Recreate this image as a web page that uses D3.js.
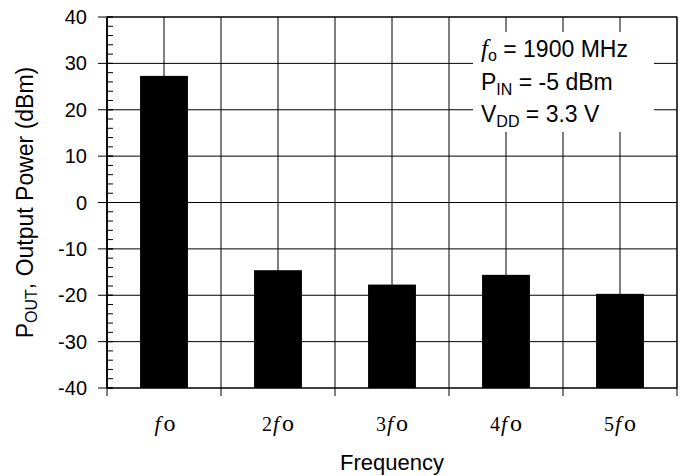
<!DOCTYPE html>
<html>
<head>
<meta charset="utf-8">
<script src="https://cdn.jsdelivr.net/npm/d3@7"></script>
<style>
  body { margin: 0; background: #fff; }
  text { font-family: "Liberation Sans", Arial, sans-serif; fill: #000; }
  .serif { font-family: "Liberation Serif", "Times New Roman", serif; }
</style>
</head>
<body>
<script>
(function() {

  var harmonics = ["", "2", "3", "4", "5"],
      power     = [27.3, -14.6, -17.7, -15.6, -19.7],
      yTicks    = [40, 30, 20, 10, 0, -10, -20, -30, -40],
      notes     = [
        { main: "", sub: "o", rest: " = 1900 MHz", italicF: true },
        { main: "P", sub: "IN", rest: " = -5 dBm" },
        { main: "V", sub: "DD", rest: " = 3.3 V" }
      ];

  var width  = 688, height = 476,
      left   = 107, right = 677,
      top    = 17,  bottom = 388,
      svg, x, y, grid;

  svg = d3.select("body")
          .append("svg")
            .attr("width", width)
            .attr("height", height);

  x = d3.scaleBand()
        .domain(harmonics)
        .range([left, right])
        .paddingInner(0.58)
        .paddingOuter(0.29);

  y = d3.scaleLinear()
        .domain([-40, 40])
        .range([bottom, top]);

  var step = x.step(),
      lines = d3.range(0, harmonics.length * 2 + 1).map(function(i) { return left + i * step / 2; });

  grid = svg.append("g").attr("stroke", "#000").attr("stroke-width", 1);

  /* horizontal grid */
  grid.selectAll("line.h")
    .data(yTicks)
    .enter()
    .append("line")
      .attr("x1", left).attr("x2", right)
      .attr("y1", function(d) { return y(d); })
      .attr("y2", function(d) { return y(d); });

  /* vertical grid: category edges and centres */
  grid.selectAll("line.v")
    .data(lines)
    .enter()
    .append("line")
      .attr("x1", function(d) { return d; })
      .attr("x2", function(d) { return d; })
      .attr("y1", top).attr("y2", bottom);

  /* legend box hides the grid behind it */
  svg.append("rect")
    .attr("x", 473).attr("y", 32)
    .attr("width", 181).attr("height", 100)
    .attr("fill", "#fff");

  var legend = svg.append("text").attr("font-size", 23);

  notes.forEach(function(n, i) {
    var line = legend.append("tspan").attr("x", 481).attr("y", 57 + i * 32.5);
    if (n.italicF) {
      line.append("tspan").attr("class", "serif").attr("font-style", "italic").attr("font-size", 25).text("f");
      line.append("tspan").attr("font-size", 16).attr("dy", 4).text(n.sub);
    } else {
      line.append("tspan").text(n.main);
      line.append("tspan").attr("font-size", 16).attr("dy", 5).text(n.sub);
    }
    line.append("tspan").attr("dy", n.italicF ? -4 : -5).text(n.rest);
  });

  /* bars rise from the bottom of the axis */
  svg.append("g")
    .selectAll("rect")
    .data(power)
    .enter()
    .append("rect")
      .attr("x", function(d, i) { return x(harmonics[i]); })
      .attr("width", x.bandwidth())
      .attr("y", function(d) { return y(d); })
      .attr("height", function(d) { return y(-40) - y(d); })
      .attr("fill", "#000");

  /* frame */
  svg.append("rect")
    .attr("x", left).attr("y", top)
    .attr("width", right - left).attr("height", bottom - top)
    .attr("fill", "none").attr("stroke", "#000").attr("stroke-width", 1);
  svg.append("line")
    .attr("x1", left).attr("x2", left).attr("y1", top).attr("y2", bottom)
    .attr("stroke", "#000").attr("stroke-width", 1.5);

  /* y axis ticks */
  var ticks = svg.append("g").attr("stroke", "#000");

  ticks.selectAll("line.minor")
    .data(d3.range(-40, 41, 2))
    .enter()
    .append("line")
      .attr("x1", left).attr("x2", left + 6)
      .attr("y1", function(d) { return y(d); })
      .attr("y2", function(d) { return y(d); });

  ticks.selectAll("line.major")
    .data(yTicks)
    .enter()
    .append("line")
      .attr("x1", left - 9).attr("x2", left + 6)
      .attr("y1", function(d) { return y(d); })
      .attr("y2", function(d) { return y(d); });

  ticks.selectAll("line.xt")
    .data(d3.range(0, harmonics.length + 1))
    .enter()
    .append("line")
      .attr("x1", function(d) { return left + d * step; })
      .attr("x2", function(d) { return left + d * step; })
      .attr("y1", bottom).attr("y2", bottom + 8);

  svg.append("g")
    .selectAll("text")
    .data(yTicks)
    .enter()
    .append("text")
      .attr("x", 87)
      .attr("y", function(d) { return y(d) + 7; })
      .attr("text-anchor", "end")
      .attr("font-size", 20)
      .text(function(d) { return d; });

  /* x labels: n f o */
  var xl = svg.append("g")
    .selectAll("text")
    .data(harmonics)
    .enter()
    .append("text")
      .attr("class", "serif")
      .attr("x", function(d) { return x(d) + x.bandwidth() / 2; })
      .attr("y", 431)
      .attr("text-anchor", "middle")
      .attr("font-size", 20);
  xl.append("tspan").text(function(d) { return d; });
  xl.append("tspan").attr("font-style", "italic").attr("dx", 1).attr("font-size", 22).text("f");
  xl.append("tspan").attr("dx", 3).attr("font-size", 24).text("o");

  svg.append("text")
    .attr("x", (left + right) / 2)
    .attr("y", 470)
    .attr("text-anchor", "middle")
    .attr("font-size", 22)
    .text("Frequency");

  var yl = svg.append("text")
    .attr("transform", "translate(33," + ((top + bottom) / 2) + ") rotate(-90)")
    .attr("text-anchor", "middle")
    .attr("font-size", 23);
  yl.append("tspan").text("P");
  yl.append("tspan").attr("font-size", 16).attr("dy", 4).text("OUT");
  yl.append("tspan").attr("dy", -4).text(", Output Power (dBm)");

}());
</script>
</body>
</html>
